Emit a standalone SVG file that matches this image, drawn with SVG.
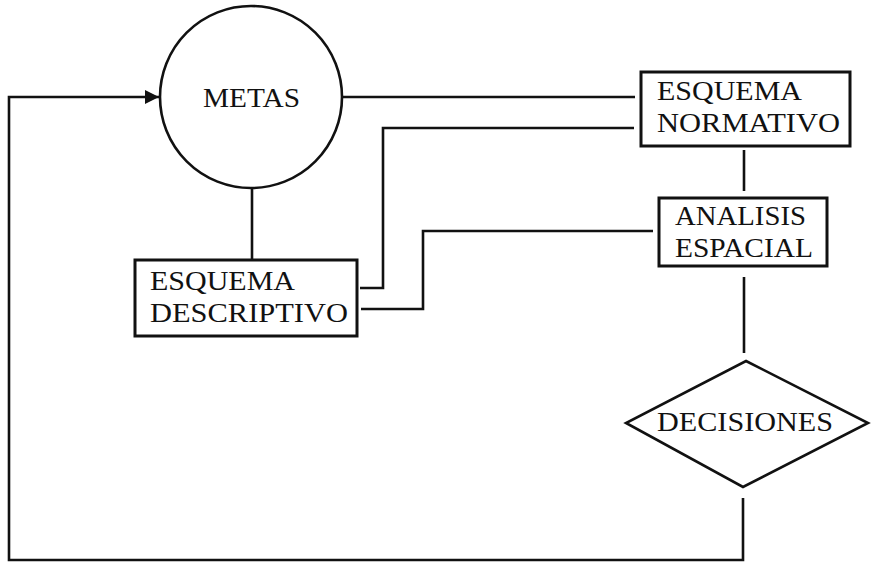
<svg xmlns="http://www.w3.org/2000/svg" width="872" height="566" viewBox="0 0 872 566">
<defs>
<style>
.shape{fill:#fff;stroke:#111;stroke-width:3}
.ln{fill:none;stroke:#111;stroke-width:2.6;stroke-linejoin:miter}
.t{font-family:"Liberation Serif","DejaVu Serif",serif;font-size:27px;fill:#111}
</style>
<marker id="arr" viewBox="0 0 10 10" refX="10" refY="5" markerWidth="17" markerHeight="14" markerUnits="userSpaceOnUse" orient="auto">
<path d="M0,0 L10,5 L0,10 Z" fill="#111"/>
</marker>
</defs>
<rect width="872" height="566" fill="#fff"/>
<g id="connectors">
<path class="ln" d="M743,498 V560 H9 V97 H159" marker-end="url(#arr)"/>
<path class="ln" d="M342,97 H635"/>
<path class="ln" d="M360,288 H383 V128 H634"/>
<path class="ln" d="M361,309 H423 V231 H653"/>
<path class="ln" d="M252,188 V259"/>
<path class="ln" d="M744,150 V191"/>
<path class="ln" d="M744,277 V353"/>
</g>
<g id="metas">
<circle class="shape" cx="251" cy="97" r="91" style="stroke-width:2.6"/>
<text class="t" x="203" y="107" textLength="97" lengthAdjust="spacingAndGlyphs">METAS</text>
</g>
<g id="esquema-normativo">
<rect class="shape" x="641" y="72" width="209" height="74"/>
<text class="t" x="657" y="100" textLength="145" lengthAdjust="spacingAndGlyphs">ESQUEMA</text>
<text class="t" x="657" y="132" textLength="183" lengthAdjust="spacingAndGlyphs">NORMATIVO</text>
</g>
<g id="analisis-espacial">
<rect class="shape" x="659" y="198" width="168" height="68"/>
<text class="t" x="675" y="225" textLength="131" lengthAdjust="spacingAndGlyphs">ANALISIS</text>
<text class="t" x="675" y="257" textLength="138" lengthAdjust="spacingAndGlyphs">ESPACIAL</text>
</g>
<g id="esquema-descriptivo">
<rect class="shape" x="135" y="260" width="222" height="76"/>
<text class="t" x="150" y="290" textLength="145" lengthAdjust="spacingAndGlyphs">ESQUEMA</text>
<text class="t" x="150" y="322" textLength="198" lengthAdjust="spacingAndGlyphs">DESCRIPTIVO</text>
</g>
<g id="decisiones">
<polygon class="shape" points="746,361 868,423 743,487 626,423" style="stroke-width:2.6"/>
<text class="t" x="657" y="431" textLength="176" lengthAdjust="spacingAndGlyphs">DECISIONES</text>
</g>
</svg>
